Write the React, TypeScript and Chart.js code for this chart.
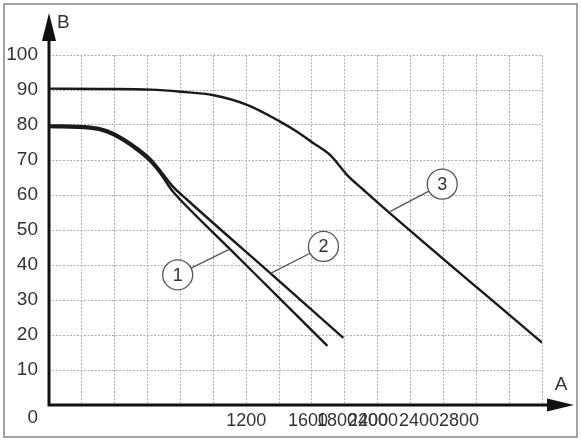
import { useEffect, useRef } from "react"
import { Chart, registerables } from "chart.js"

Chart.register(...registerables)

// curve 1
const curve1A = [0, 250, 350, 450, 550, 620, 680, 750, 802, 1100, 1400, 1694]
const curve1B = [79.4, 79.0, 78.0, 75.6, 72.3, 69.4, 66.0, 61.2, 58.5, 44.6, 30.6, 16.9]
// curve 2
const curve2A = [0, 250, 350, 450, 550, 620, 680, 750, 844, 1348, 1791]
const curve2B = [79.9, 79.5, 78.5, 76.2, 73.0, 70.2, 66.8, 62.6, 58.5, 37.6, 19.2]
// curve 3
const curve3A = [0, 316, 620, 802, 1002, 1209, 1409, 1512, 1609, 1713, 1791, 1816, 1913, 2016, 3000]
const curve3B = [90.4, 90.3, 90.1, 89.5, 88.5, 85.7, 80.9, 78.0, 74.8, 71.3, 67.0, 65.6, 61.5, 57.2, 17.8]

// x tick labels as printed (they overlap in the original)
const xTickValues = [1200, 1576, 1752, 1941, 2002, 2251, 2495]
const xTickLabels = ["1200", "1600", "1800", "2400", "2000", "2400", "2800"]

// numbered callouts: circle centre and the point on the curve it points at
const calloutNames = ["1", "2", "3"]
const calloutCircleA = [783, 1670, 2393]
const calloutCircleB = [37.2, 45.3, 63.1]
const calloutTargetA = [1093, 1348, 2077]
const calloutTargetB = [44.4, 37.6, 55.3]

const FONT = "'Liberation Sans', Arial, sans-serif"

const toPoints = (xs: number[], ys: number[]) => xs.map((x, i) => ({ x, y: ys[i] }))

const decorations = {
  id: "decorations",
  afterDraw(chart: any) {
    const { ctx, chartArea, scales } = chart
    const { left, bottom } = chartArea
    ctx.save()

    // outer frame
    ctx.strokeStyle = "#858585"
    ctx.lineWidth = 1.5
    ctx.strokeRect(4, 4, chart.width - 8, chart.height - 7)

    // axes with arrows
    ctx.strokeStyle = "#111"
    ctx.lineWidth = 3
    ctx.beginPath()
    ctx.moveTo(left, 36)
    ctx.lineTo(left, bottom)
    ctx.lineTo(550, bottom)
    ctx.stroke()
    ctx.fillStyle = "#111"
    ctx.beginPath()
    ctx.moveTo(left, 13)
    ctx.lineTo(left - 7, 41)
    ctx.lineTo(left + 7, 41)
    ctx.closePath()
    ctx.fill()
    ctx.beginPath()
    ctx.moveTo(574, bottom)
    ctx.lineTo(547, bottom - 6.5)
    ctx.lineTo(547, bottom + 6.5)
    ctx.closePath()
    ctx.fill()

    // axis names and the origin label
    ctx.fillStyle = "#333"
    ctx.font = `19px ${FONT}`
    ctx.textBaseline = "middle"
    ctx.textAlign = "left"
    ctx.fillText("B", 57, 23)
    ctx.textAlign = "center"
    ctx.fillText("A", 561, 385)
    ctx.textAlign = "right"
    ctx.fillText("0", 38, 418)

    // callouts
    const r = 15
    calloutNames.forEach((name, i) => {
      const cx = scales.x.getPixelForValue(calloutCircleA[i])
      const cy = scales.y.getPixelForValue(calloutCircleB[i])
      const tx = scales.x.getPixelForValue(calloutTargetA[i])
      const ty = scales.y.getPixelForValue(calloutTargetB[i])
      const ang = Math.atan2(ty - cy, tx - cx)
      ctx.strokeStyle = "#555"
      ctx.lineWidth = 1.3
      ctx.beginPath()
      ctx.moveTo(cx + r * Math.cos(ang), cy + r * Math.sin(ang))
      ctx.lineTo(tx, ty)
      ctx.stroke()
      ctx.beginPath()
      ctx.arc(cx, cy, r, 0, Math.PI * 2)
      ctx.fillStyle = "#fff"
      ctx.fill()
      ctx.stroke()
      ctx.fillStyle = "#333"
      ctx.font = `18px ${FONT}`
      ctx.textAlign = "center"
      ctx.fillText(name, cx, cy + 1)
    })

    ctx.restore()
  },
}

export default function App() {
  const chartRef = useRef<HTMLCanvasElement>(null)
  const chartInstance = useRef<Chart | null>(null)

  useEffect(() => {
    document.body.style.margin = "0"
    if (!chartRef.current) return
    if (chartInstance.current) chartInstance.current.destroy()

    const ctx = chartRef.current.getContext("2d")
    if (!ctx) return

    const lineStyle = {
      borderColor: "#1a1a1a",
      borderWidth: 2.4,
      pointRadius: 0,
      fill: false,
      cubicInterpolationMode: "monotone" as const,
      xAxisID: "x",
      yAxisID: "y",
    }

    chartInstance.current = new Chart(ctx, {
      type: "line",
      data: {
        datasets: [
          { label: "1", data: toPoints(curve1A, curve1B), ...lineStyle },
          { label: "2", data: toPoints(curve2A, curve2B), ...lineStyle },
          { label: "3", data: toPoints(curve3A, curve3B), ...lineStyle },
        ],
      },
      options: {
        responsive: false,
        animation: false,
        layout: { padding: { top: 55, right: 39, left: 0, bottom: 0 } },
        plugins: {
          legend: { display: false },
          tooltip: { enabled: false },
        },
        scales: {
          x: {
            type: "linear",
            position: "bottom",
            min: 0,
            max: 3000,
            ticks: { display: false, stepSize: 200 },
            grid: { color: "#b0b0b0", lineWidth: 1, drawTicks: false },
            border: { display: false, dash: [2, 1.5] },
            afterFit: (scale: any) => {
              scale.height = 0
            },
          },
          x2: {
            type: "linear",
            position: "bottom",
            min: 0,
            max: 3000,
            grid: { display: false, drawTicks: false },
            border: { display: false },
            afterBuildTicks: (scale: any) => {
              scale.ticks = xTickValues.map((value) => ({ value }))
            },
            ticks: {
              autoSkip: false,
              maxRotation: 0,
              padding: 5,
              color: "#333",
              font: { family: FONT, size: 18 },
              callback: (_value: any, index: number) => xTickLabels[index],
            },
            afterFit: (scale: any) => {
              scale.height = 35
            },
          },
          y: {
            type: "linear",
            min: 0,
            max: 100,
            ticks: {
              stepSize: 10,
              padding: 11,
              color: "#333",
              font: { family: FONT, size: 19 },
              callback: (value: any) => (value === 0 ? "" : String(value)),
            },
            grid: { color: "#b0b0b0", lineWidth: 1, drawTicks: false },
            border: { display: false, dash: [2, 1.5] },
            afterFit: (scale: any) => {
              scale.width = 49
            },
          },
        },
      },
      plugins: [decorations],
    })

    return () => {
      if (chartInstance.current) {
        chartInstance.current.destroy()
        chartInstance.current = null
      }
    }
  }, [])

  return (
    <div style={{ width: 581, height: 440 }}>
      <canvas ref={chartRef} width={581} height={440} style={{ display: "block" }}></canvas>
    </div>
  )
}
